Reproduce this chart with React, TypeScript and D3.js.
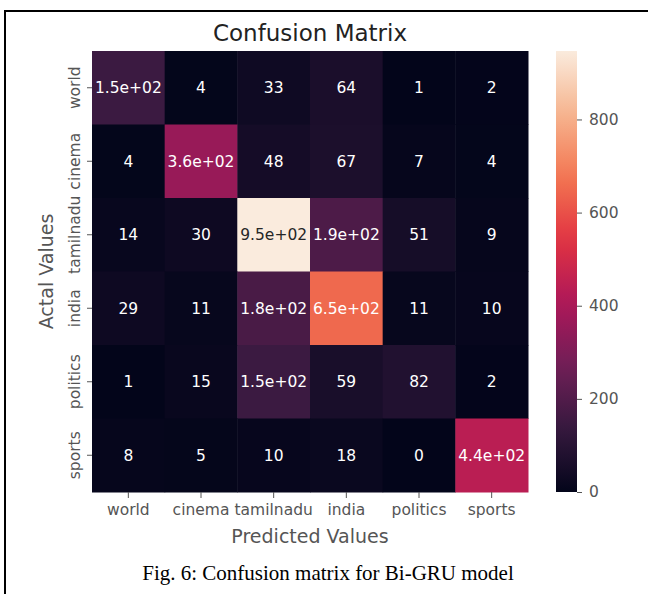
import { useRef, useEffect } from 'react';
import * as d3 from 'd3';

const predictedLabels = ['world', 'cinema', 'tamilnadu', 'india', 'politics', 'sports'];
const actualLabels = ['world', 'cinema', 'tamilnadu', 'india', 'politics', 'sports'];

const worldRow = [150, 4, 33, 64, 1, 2];
const cinemaRow = [4, 360, 48, 67, 7, 4];
const tamilnaduRow = [14, 30, 947, 190, 51, 9];
const indiaRow = [29, 11, 180, 650, 11, 10];
const politicsRow = [1, 15, 150, 59, 82, 2];
const sportsRow = [8, 5, 10, 18, 0, 440];

const colorbarTicks = [0, 200, 400, 600, 800];

// seaborn "rocket" colormap, sampled
const rocket = ['#03051a', '#35193e', '#701f57', '#ad1759', '#e13342', '#f37651', '#f6b48f', '#faebdd'];

const font = "'DejaVu Sans', sans-serif";

// matplotlib-like ".2g"
const fmt = (v: number) => {
  if (Math.abs(v) >= 100) {
    const [m, e] = v.toExponential(1).split('e');
    return m + 'e' + e[0] + e.slice(1).padStart(2, '0');
  }
  return String(v);
};

const ConfusionHeatmap = () => {
  const svgRef = useRef<SVGSVGElement>(null);

  useEffect(() => {
    const W = 648, H = 594;
    const svg = d3.select(svgRef.current).attr('width', W).attr('height', H);
    svg.selectAll('*').remove();

    const matrix = [worldRow, cinemaRow, tamilnaduRow, indiaRow, politicsRow, sportsRow];
    const cells = matrix.flatMap((row, i) =>
      row.map((v, j) => ({ actual: actualLabels[i], predicted: predictedLabels[j], value: v }))
    );
    const vmax = d3.max(cells, d => d.value) as number;

    const left = 92, right = 528, top = 51, bottom = 492;

    const x = d3.scaleBand().domain(predictedLabels).range([left, right]);
    const y = d3.scaleBand().domain(actualLabels).range([top, bottom]);
    const color = d3.scaleLinear<string>()
      .domain(rocket.map((_, i) => (i / (rocket.length - 1)) * vmax))
      .range(rocket)
      .interpolate(d3.interpolateRgb);

    // figure frame (top and left only)
    svg.append('rect').attr('x', 4).attr('y', 10).attr('width', W - 4).attr('height', 2).attr('fill', '#000');
    svg.append('rect').attr('x', 4).attr('y', 10).attr('width', 2).attr('height', H - 10).attr('fill', '#000');

    // cells
    svg.append('g').selectAll('rect')
      .data(cells)
      .join('rect')
      .attr('x', d => x(d.predicted) as number)
      .attr('y', d => y(d.actual) as number)
      .attr('width', x.bandwidth() + 0.5)
      .attr('height', y.bandwidth() + 0.5)
      .attr('fill', d => color(d.value));

    const lum = (c: string) => {
      const rgb = d3.rgb(c);
      const f = (u: number) => {
        u /= 255;
        return u <= 0.03928 ? u / 12.92 : Math.pow((u + 0.055) / 1.055, 2.4);
      };
      return 0.2126 * f(rgb.r) + 0.7152 * f(rgb.g) + 0.0722 * f(rgb.b);
    };

    svg.append('g').selectAll('text')
      .data(cells)
      .join('text')
      .attr('x', d => (x(d.predicted) as number) + x.bandwidth() / 2)
      .attr('y', d => (y(d.actual) as number) + y.bandwidth() / 2)
      .attr('dy', '0.36em')
      .attr('text-anchor', 'middle')
      .attr('font-family', font)
      .attr('font-size', 15.5)
      .attr('fill', d => (lum(color(d.value)) > 0.408 ? '#262626' : '#ffffff'))
      .text(d => fmt(d.value));

    // x axis
    const xAxis = svg.append('g')
      .attr('transform', `translate(0,${bottom})`)
      .call(d3.axisBottom(x).tickSize(6).tickPadding(6));
    xAxis.select('.domain').remove();
    xAxis.selectAll('line').attr('stroke', '#555');
    xAxis.selectAll('text').attr('font-family', font).attr('font-size', 15.5).attr('fill', '#555');

    // y axis (rotated labels)
    const yAxis = svg.append('g')
      .attr('transform', `translate(${left},0)`)
      .call(d3.axisLeft(y).tickSize(5));
    yAxis.select('.domain').remove();
    yAxis.selectAll('line').attr('stroke', '#555');
    yAxis.selectAll('text')
      .attr('x', null).attr('dy', null)
      .attr('text-anchor', 'middle')
      .attr('transform', 'translate(-12,0) rotate(-90)')
      .attr('font-family', font).attr('font-size', 15.5).attr('fill', '#555');

    // title & axis labels
    svg.append('text')
      .attr('x', (left + right) / 2).attr('y', 41)
      .attr('text-anchor', 'middle')
      .attr('font-family', font).attr('font-size', 23).attr('fill', '#222')
      .text('Confusion Matrix');

    svg.append('text')
      .attr('x', (left + right) / 2).attr('y', 543)
      .attr('text-anchor', 'middle')
      .attr('font-family', font).attr('font-size', 19).attr('fill', '#555')
      .text('Predicted Values');

    svg.append('text')
      .attr('transform', `translate(53,${(top + bottom) / 2}) rotate(-90)`)
      .attr('text-anchor', 'middle')
      .attr('font-family', font).attr('font-size', 19).attr('fill', '#555')
      .text('Actal Values');

    // colorbar
    const cbX = 556, cbW = 21;
    const cy = d3.scaleLinear().domain([0, vmax]).range([bottom, top]);
    const defs = svg.append('defs');
    const grad = defs.append('linearGradient')
      .attr('id', 'rocketGrad')
      .attr('x1', 0).attr('y1', 1).attr('x2', 0).attr('y2', 0);
    d3.range(0, 1.0001, 0.05).forEach(t => {
      grad.append('stop').attr('offset', t).attr('stop-color', color(t * vmax));
    });
    svg.append('rect')
      .attr('x', cbX).attr('y', top)
      .attr('width', cbW).attr('height', bottom - top)
      .attr('fill', 'url(#rocketGrad)');

    const cAxis = svg.append('g')
      .attr('transform', `translate(${cbX + cbW},0)`)
      .call(d3.axisRight(cy).tickValues(colorbarTicks).tickSize(5).tickPadding(7));
    cAxis.select('.domain').remove();
    cAxis.selectAll('line').attr('stroke', '#555');
    cAxis.selectAll('text').attr('font-family', font).attr('font-size', 15.5).attr('fill', '#555');

    // caption
    svg.append('text')
      .attr('x', 328).attr('y', 580)
      .attr('text-anchor', 'middle')
      .attr('font-family', "'Liberation Serif', 'Times New Roman', serif")
      .attr('font-size', 21).attr('fill', '#000')
      .text('Fig. 6: Confusion matrix for Bi-GRU model');
  }, []);

  return <svg ref={svgRef} style={{ position: 'absolute', left: 0, top: 0 }}></svg>;
};

export default function App() {
  return <ConfusionHeatmap />;
}
